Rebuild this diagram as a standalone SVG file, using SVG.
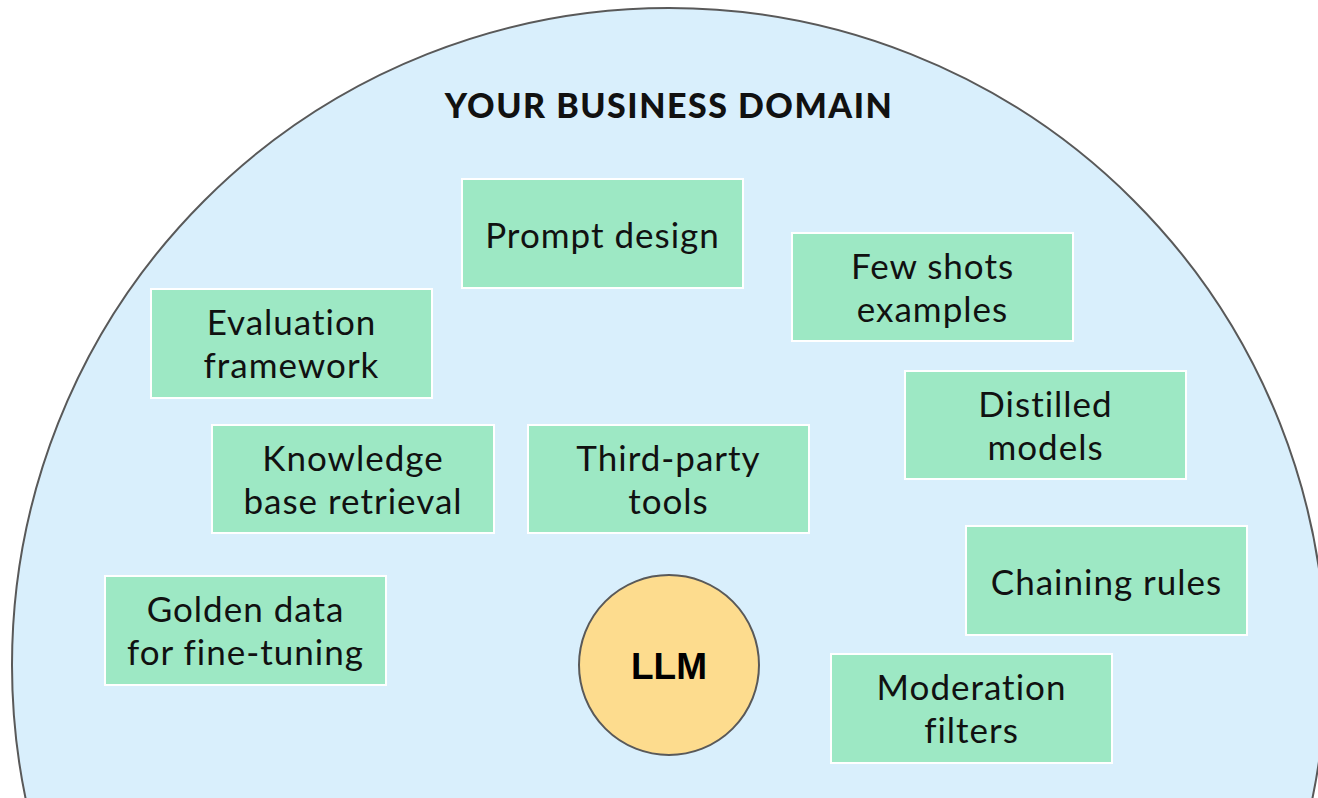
<svg xmlns="http://www.w3.org/2000/svg" width="1318" height="798" viewBox="0 0 1318 798">
<style>
.box{fill:#9de8c4;stroke:#ffffff;stroke-width:2}
.t{font-family:Lato,"Liberation Sans",sans-serif;font-size:35px;letter-spacing:1px;fill:#111;text-anchor:middle}
.title{font-family:Lato,"Liberation Sans",sans-serif;font-size:34px;letter-spacing:1.5px;font-weight:900;fill:#111;text-anchor:middle}
</style>
<rect width="1318" height="798" fill="#ffffff"/>
<g id="domain">
<circle cx="669" cy="665" r="657" fill="#d9effc" stroke="#595959" stroke-width="2"/>
<text class="title" x="669" y="118">YOUR BUSINESS DOMAIN</text>
</g>
<g id="connectors"></g>
<g id="prompt"><rect class="box" x="462" y="179" width="281" height="109"/><text class="t" x="602.5" y="248">Prompt design</text></g>
<g id="fewshots"><rect class="box" x="792" y="233" width="281" height="108"/><text class="t" x="932.5" y="279">Few shots</text><text class="t" x="932.5" y="322">examples</text></g>
<g id="evaluation"><rect class="box" x="151" y="289" width="281" height="109"/><text class="t" x="291.5" y="335">Evaluation</text><text class="t" x="291.5" y="378">framework</text></g>
<g id="distilled"><rect class="box" x="905" y="371" width="281" height="108"/><text class="t" x="1045.5" y="417">Distilled</text><text class="t" x="1045.5" y="460">models</text></g>
<g id="knowledge"><rect class="box" x="212" y="425" width="282" height="108"/><text class="t" x="353" y="471">Knowledge</text><text class="t" x="353" y="514">base retrieval</text></g>
<g id="thirdparty"><rect class="box" x="528" y="425" width="281" height="108"/><text class="t" x="668.5" y="471">Third-party</text><text class="t" x="668.5" y="514">tools</text></g>
<g id="chaining"><rect class="box" x="966" y="526" width="281" height="109"/><text class="t" x="1106.5" y="595">Chaining rules</text></g>
<g id="golden"><rect class="box" x="105" y="576" width="281" height="109"/><text class="t" x="245.5" y="622">Golden data</text><text class="t" x="245.5" y="665">for fine-tuning</text></g>
<g id="moderation"><rect class="box" x="831" y="654" width="281" height="109"/><text class="t" x="971.5" y="700">Moderation</text><text class="t" x="971.5" y="743">filters</text></g>
<g id="llm"><circle cx="669" cy="665" r="90" fill="#fddc8e" stroke="#595959" stroke-width="2"/><text x="669" y="679" font-family="'Liberation Sans',Arial,sans-serif" font-size="37" font-weight="bold" fill="#000" text-anchor="middle">LLM</text></g>
</svg>
